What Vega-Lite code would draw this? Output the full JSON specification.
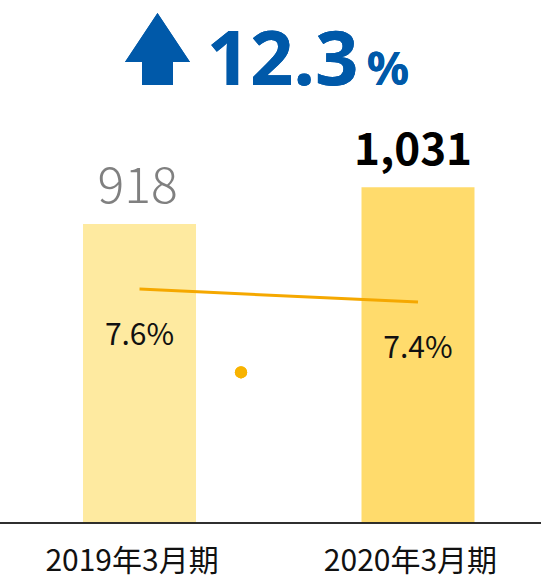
{
  "$schema": "https://vega.github.io/schema/vega-lite/v6.json",
  "width": 541,
  "height": 523,
  "autosize": {"type": "none"},
  "padding": {"left": 0, "right": 0, "top": 0, "bottom": 57},
  "background": "white",
  "config": {"view": {"stroke": null}, "font": "Noto Sans CJK JP"},
  "data": {"values": [
    {"year": 2019, "period": "2019年3月期", "sales": 918, "ratio": 0.076},
    {"year": 2020, "period": "2020年3月期", "sales": 1031, "ratio": 0.074}
  ]},
  "resolve": {"scale": {"y": "independent", "color": "independent"}},
  "layer": [
    {
      "mark": {"type": "bar", "width": 113},
      "encoding": {
        "x": {"field": "year", "type": "quantitative",
          "scale": {"domain": [2018.499, 2020.4417], "nice": false, "zero": false, "padding": 0},
          "axis": {"values": [2019, 2020], "labelExpr": "datum.value + '年3月期'", "domain": false, "ticks": false, "grid": false, "title": null, "labelFontSize": 30, "labelColor": "#111111", "labelPadding": 23, "labelOffset": -8, "labelFont": "Noto Sans CJK JP"}},
        "y": {"field": "sales", "type": "quantitative", "scale": {"domain": [0, 1605.7], "nice": false}, "axis": null},
        "color": {"field": "period", "type": "nominal", "scale": {"range": ["#FEEAA0", "#FFDB6C"]}, "legend": null}
      }
    },
    {
      "mark": {"type": "rule", "color": "#222222", "strokeWidth": 1.5},
      "encoding": {
        "y": {"datum": 0, "type": "quantitative", "scale": {"domain": [0, 1605.7], "nice": false}, "axis": null}
      }
    },
    {
      "transform": [{"filter": "datum.year == 2019"}],
      "mark": {"type": "text", "fontSize": 50, "fontWeight": 300, "color": "#808080", "baseline": "alphabetic", "dy": -21, "dx": -2},
      "encoding": {
        "x": {"field": "year", "type": "quantitative", "scale": {"domain": [2018.499, 2020.4417], "nice": false, "zero": false, "padding": 0}},
        "y": {"field": "sales", "type": "quantitative", "scale": {"domain": [0, 1605.7], "nice": false}, "axis": null},
        "text": {"field": "sales", "type": "quantitative", "format": ",d"}
      }
    },
    {
      "transform": [{"filter": "datum.year == 2020"}],
      "mark": {"type": "text", "fontSize": 44, "fontWeight": "bold", "color": "#000000", "baseline": "alphabetic", "dy": -22, "dx": -5},
      "encoding": {
        "x": {"field": "year", "type": "quantitative", "scale": {"domain": [2018.499, 2020.4417], "nice": false, "zero": false, "padding": 0}},
        "y": {"field": "sales", "type": "quantitative", "scale": {"domain": [0, 1605.7], "nice": false}, "axis": null},
        "text": {"field": "sales", "type": "quantitative", "format": ",d"}
      }
    },
    {
      "mark": {"type": "line", "color": "#F5A800", "strokeWidth": 3},
      "encoding": {
        "x": {"field": "year", "type": "quantitative", "scale": {"domain": [2018.499, 2020.4417], "nice": false, "zero": false, "padding": 0}},
        "y": {"field": "ratio", "type": "quantitative", "scale": {"domain": [0.04, 0.1205], "nice": false, "zero": false}, "axis": null}
      }
    },
    {
      "mark": {"type": "text", "fontSize": 30, "color": "#111111", "baseline": "middle", "dy": 47},
      "encoding": {
        "x": {"field": "year", "type": "quantitative", "scale": {"domain": [2018.499, 2020.4417], "nice": false, "zero": false, "padding": 0}},
        "y": {"field": "ratio", "type": "quantitative", "scale": {"domain": [0.04, 0.1205], "nice": false, "zero": false}, "axis": null},
        "text": {"field": "ratio", "type": "quantitative", "format": ".1%"}
      }
    },
    {
      "mark": {"type": "point", "filled": true, "size": 150, "color": "#F8B300", "opacity": 1},
      "encoding": {
        "x": {"datum": 2019.3645, "type": "quantitative", "scale": {"domain": [2018.499, 2020.4417], "nice": false, "zero": false, "padding": 0}},
        "y": {"datum": 0.0632, "type": "quantitative", "scale": {"domain": [0.04, 0.1205], "nice": false, "zero": false}, "axis": null}
      }
    },
    {
      "mark": {"type": "point", "filled": true, "size": 5184, "color": "#0059A9", "opacity": 1,
        "shape": "M0,-1 L0.903,0.361 L0.43,0.361 L0.43,1 L-0.43,1 L-0.43,0.361 L-0.903,0.361 Z"},
      "encoding": {
        "x": {"datum": 2019.0646, "type": "quantitative", "scale": {"domain": [2018.499, 2020.4417], "nice": false, "zero": false, "padding": 0}},
        "y": {"datum": 1455.3, "type": "quantitative", "scale": {"domain": [0, 1605.7], "nice": false}, "axis": null}
      }
    },
    {
      "mark": {"type": "text", "fontSize": 76, "fontWeight": "bold", "color": "#0059A9", "baseline": "alphabetic", "align": "center", "font": "Noto Sans"},
      "encoding": {
        "x": {"datum": 2019.5135, "type": "quantitative", "scale": {"domain": [2018.499, 2020.4417], "nice": false, "zero": false, "padding": 0}},
        "y": {"datum": 1344.8, "type": "quantitative", "scale": {"domain": [0, 1605.7], "nice": false}, "axis": null},
        "text": {"value": "12.3"}
      }
    },
    {
      "mark": {"type": "text", "fontSize": 47, "fontWeight": "bold", "color": "#0059A9", "baseline": "alphabetic", "align": "center", "font": "Noto Sans"},
      "encoding": {
        "x": {"datum": 2019.892, "type": "quantitative", "scale": {"domain": [2018.499, 2020.4417], "nice": false, "zero": false, "padding": 0}},
        "y": {"datum": 1344.8, "type": "quantitative", "scale": {"domain": [0, 1605.7], "nice": false}, "axis": null},
        "text": {"value": "%"}
      }
    }
  ]
}
